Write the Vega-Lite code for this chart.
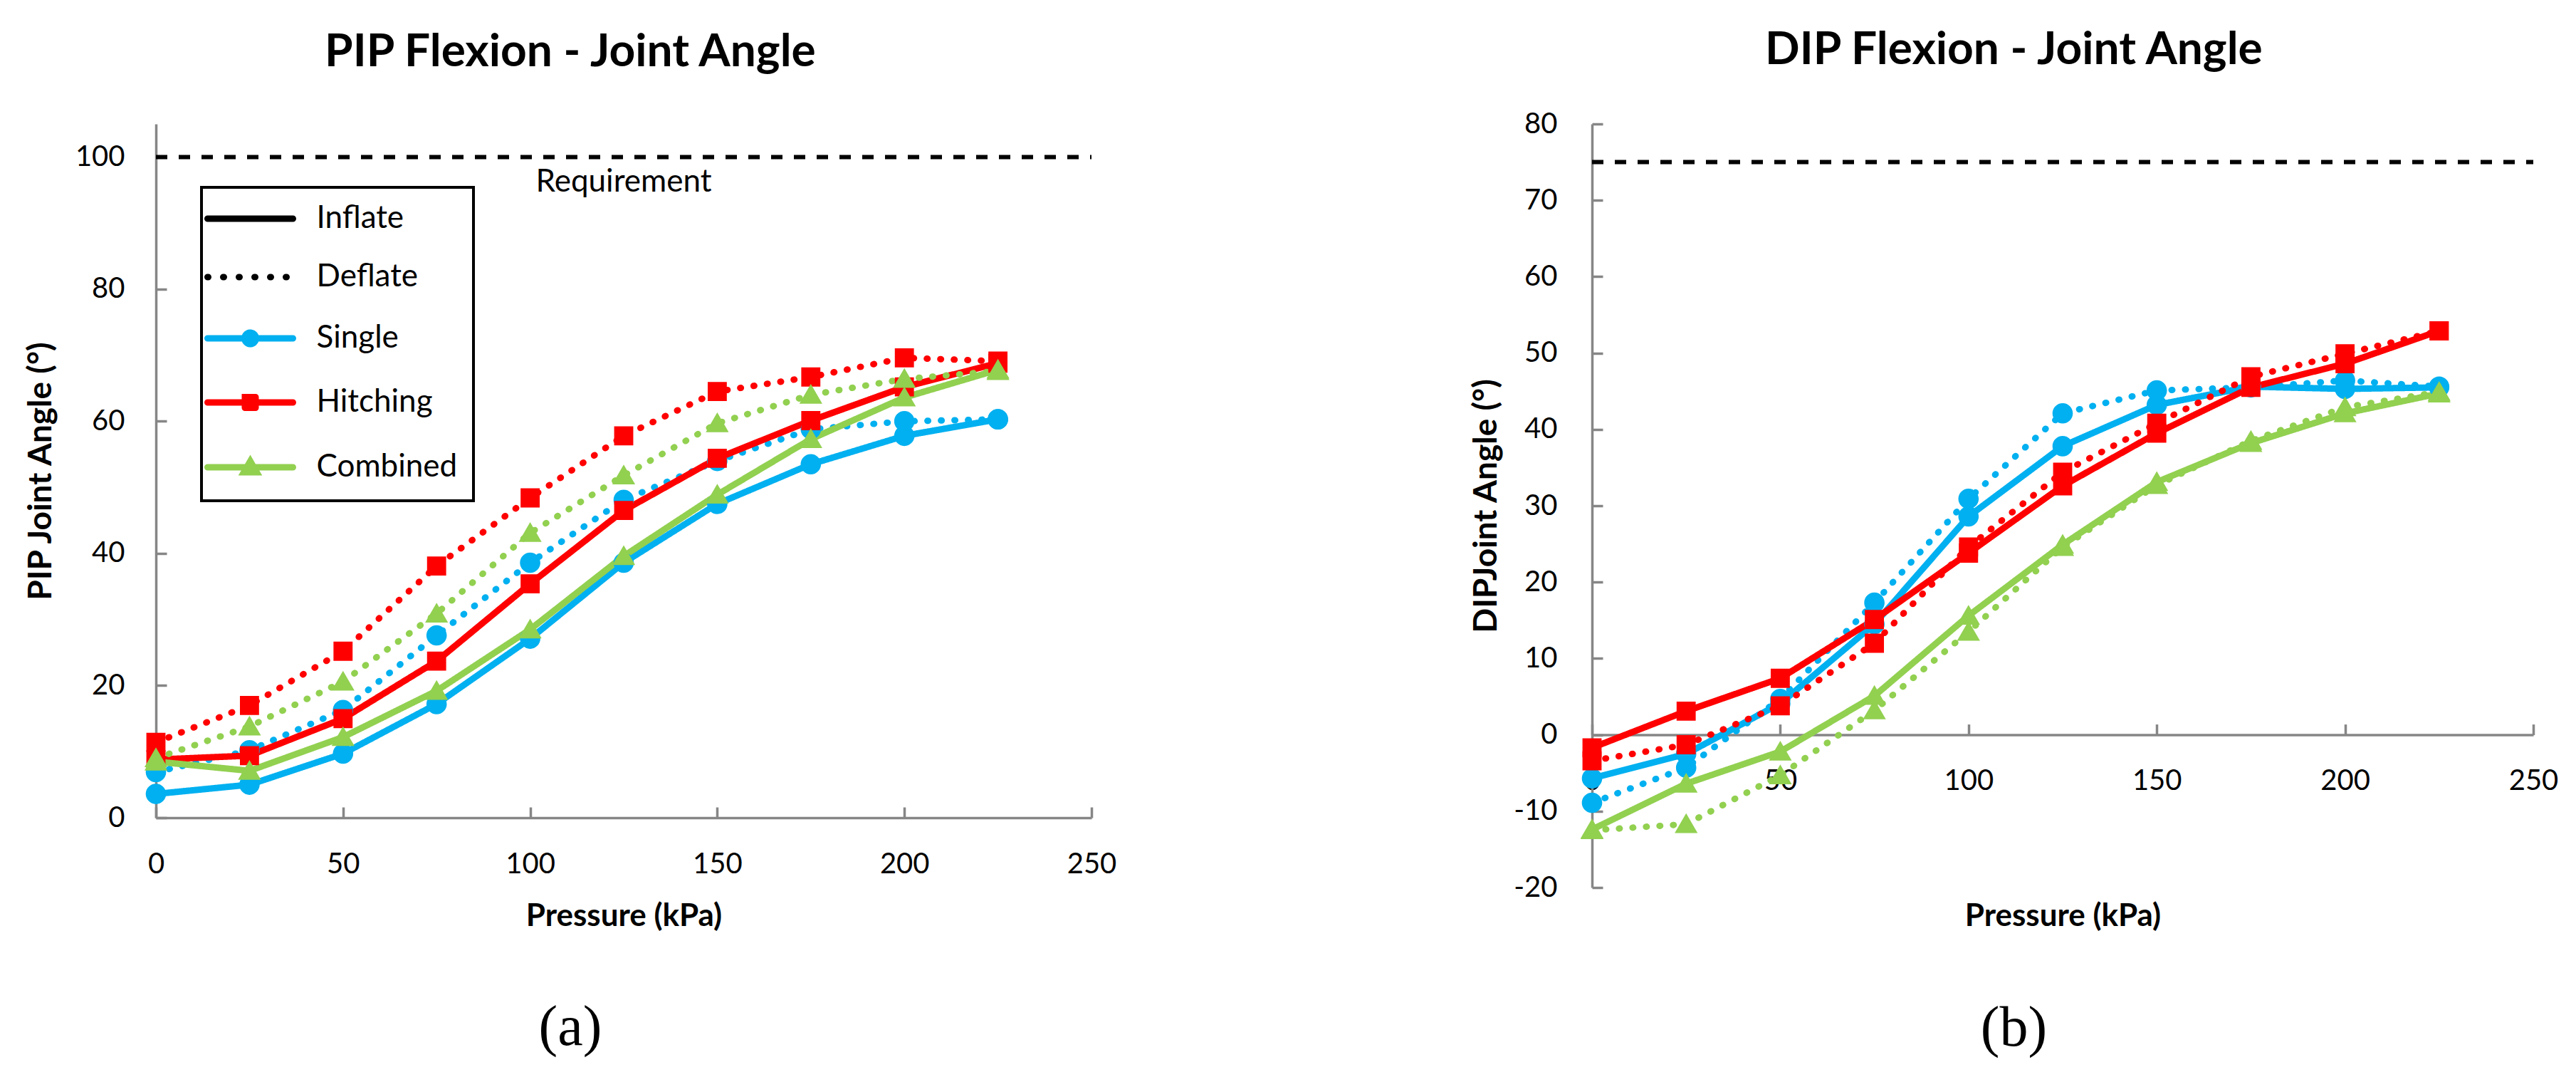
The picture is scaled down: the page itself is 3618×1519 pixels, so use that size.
{
  "$schema": "https://vega.github.io/schema/vega-lite/v6.json",
  "padding": {"left": 34, "top": 39, "right": 5, "bottom": 5},
  "background": "white",
  "spacing": 496,
  "datasets": {
    "pip": [
      {"design": "Single", "phase": "Inflate", "pressure": 0, "angle": 3.6},
      {"design": "Single", "phase": "Inflate", "pressure": 25, "angle": 5.0},
      {"design": "Single", "phase": "Inflate", "pressure": 50, "angle": 9.7},
      {"design": "Single", "phase": "Inflate", "pressure": 75, "angle": 17.2},
      {"design": "Single", "phase": "Inflate", "pressure": 100, "angle": 27.1},
      {"design": "Single", "phase": "Inflate", "pressure": 125, "angle": 38.6},
      {"design": "Single", "phase": "Inflate", "pressure": 150, "angle": 47.5},
      {"design": "Single", "phase": "Inflate", "pressure": 175, "angle": 53.5},
      {"design": "Single", "phase": "Inflate", "pressure": 200, "angle": 57.8},
      {"design": "Single", "phase": "Inflate", "pressure": 225, "angle": 60.3},
      {"design": "Single", "phase": "Deflate", "pressure": 0, "angle": 6.9},
      {"design": "Single", "phase": "Deflate", "pressure": 25, "angle": 10.2},
      {"design": "Single", "phase": "Deflate", "pressure": 50, "angle": 16.3},
      {"design": "Single", "phase": "Deflate", "pressure": 75, "angle": 27.6},
      {"design": "Single", "phase": "Deflate", "pressure": 100, "angle": 38.6},
      {"design": "Single", "phase": "Deflate", "pressure": 125, "angle": 48.1},
      {"design": "Single", "phase": "Deflate", "pressure": 150, "angle": 54.0},
      {"design": "Single", "phase": "Deflate", "pressure": 175, "angle": 58.8},
      {"design": "Single", "phase": "Deflate", "pressure": 200, "angle": 60.0},
      {"design": "Single", "phase": "Deflate", "pressure": 225, "angle": 60.3},
      {"design": "Hitching", "phase": "Inflate", "pressure": 0, "angle": 8.8},
      {"design": "Hitching", "phase": "Inflate", "pressure": 25, "angle": 9.4},
      {"design": "Hitching", "phase": "Inflate", "pressure": 50, "angle": 15.0},
      {"design": "Hitching", "phase": "Inflate", "pressure": 75, "angle": 23.7},
      {"design": "Hitching", "phase": "Inflate", "pressure": 100, "angle": 35.4},
      {"design": "Hitching", "phase": "Inflate", "pressure": 125, "angle": 46.5},
      {"design": "Hitching", "phase": "Inflate", "pressure": 150, "angle": 54.4},
      {"design": "Hitching", "phase": "Inflate", "pressure": 175, "angle": 60.1},
      {"design": "Hitching", "phase": "Inflate", "pressure": 200, "angle": 65.2},
      {"design": "Hitching", "phase": "Inflate", "pressure": 225, "angle": 68.8},
      {"design": "Hitching", "phase": "Deflate", "pressure": 0, "angle": 11.4},
      {"design": "Hitching", "phase": "Deflate", "pressure": 25, "angle": 17.0},
      {"design": "Hitching", "phase": "Deflate", "pressure": 50, "angle": 25.2},
      {"design": "Hitching", "phase": "Deflate", "pressure": 75, "angle": 38.1},
      {"design": "Hitching", "phase": "Deflate", "pressure": 100, "angle": 48.4},
      {"design": "Hitching", "phase": "Deflate", "pressure": 125, "angle": 57.8},
      {"design": "Hitching", "phase": "Deflate", "pressure": 150, "angle": 64.5},
      {"design": "Hitching", "phase": "Deflate", "pressure": 175, "angle": 66.7},
      {"design": "Hitching", "phase": "Deflate", "pressure": 200, "angle": 69.6},
      {"design": "Hitching", "phase": "Deflate", "pressure": 225, "angle": 69.1},
      {"design": "Combined", "phase": "Inflate", "pressure": 0, "angle": 8.5},
      {"design": "Combined", "phase": "Inflate", "pressure": 25, "angle": 7.1},
      {"design": "Combined", "phase": "Inflate", "pressure": 50, "angle": 12.2},
      {"design": "Combined", "phase": "Inflate", "pressure": 75, "angle": 19.2},
      {"design": "Combined", "phase": "Inflate", "pressure": 100, "angle": 28.5},
      {"design": "Combined", "phase": "Inflate", "pressure": 125, "angle": 39.6},
      {"design": "Combined", "phase": "Inflate", "pressure": 150, "angle": 48.9},
      {"design": "Combined", "phase": "Inflate", "pressure": 175, "angle": 57.3},
      {"design": "Combined", "phase": "Inflate", "pressure": 200, "angle": 63.6},
      {"design": "Combined", "phase": "Inflate", "pressure": 225, "angle": 67.8},
      {"design": "Combined", "phase": "Deflate", "pressure": 0, "angle": 9.0},
      {"design": "Combined", "phase": "Deflate", "pressure": 25, "angle": 13.8},
      {"design": "Combined", "phase": "Deflate", "pressure": 50, "angle": 20.6},
      {"design": "Combined", "phase": "Deflate", "pressure": 75, "angle": 30.9},
      {"design": "Combined", "phase": "Deflate", "pressure": 100, "angle": 43.1},
      {"design": "Combined", "phase": "Deflate", "pressure": 125, "angle": 51.8},
      {"design": "Combined", "phase": "Deflate", "pressure": 150, "angle": 59.7},
      {"design": "Combined", "phase": "Deflate", "pressure": 175, "angle": 64.0},
      {"design": "Combined", "phase": "Deflate", "pressure": 200, "angle": 66.4},
      {"design": "Combined", "phase": "Deflate", "pressure": 225, "angle": 67.6}
    ],
    "dip": [
      {"design": "Single", "phase": "Inflate", "pressure": 0, "angle": -5.7},
      {"design": "Single", "phase": "Inflate", "pressure": 25, "angle": -2.5},
      {"design": "Single", "phase": "Inflate", "pressure": 50, "angle": 4.1},
      {"design": "Single", "phase": "Inflate", "pressure": 75, "angle": 14.5},
      {"design": "Single", "phase": "Inflate", "pressure": 100, "angle": 28.6},
      {"design": "Single", "phase": "Inflate", "pressure": 125, "angle": 37.8},
      {"design": "Single", "phase": "Inflate", "pressure": 150, "angle": 43.2},
      {"design": "Single", "phase": "Inflate", "pressure": 175, "angle": 45.6},
      {"design": "Single", "phase": "Inflate", "pressure": 200, "angle": 45.3},
      {"design": "Single", "phase": "Inflate", "pressure": 225, "angle": 45.5},
      {"design": "Single", "phase": "Deflate", "pressure": 0, "angle": -8.9},
      {"design": "Single", "phase": "Deflate", "pressure": 25, "angle": -4.3},
      {"design": "Single", "phase": "Deflate", "pressure": 50, "angle": 4.7},
      {"design": "Single", "phase": "Deflate", "pressure": 75, "angle": 17.3},
      {"design": "Single", "phase": "Deflate", "pressure": 100, "angle": 30.9},
      {"design": "Single", "phase": "Deflate", "pressure": 125, "angle": 42.1},
      {"design": "Single", "phase": "Deflate", "pressure": 150, "angle": 45.1},
      {"design": "Single", "phase": "Deflate", "pressure": 175, "angle": 45.5},
      {"design": "Single", "phase": "Deflate", "pressure": 200, "angle": 46.4},
      {"design": "Single", "phase": "Deflate", "pressure": 225, "angle": 45.6},
      {"design": "Hitching", "phase": "Inflate", "pressure": 0, "angle": -1.7},
      {"design": "Hitching", "phase": "Inflate", "pressure": 25, "angle": 3.1},
      {"design": "Hitching", "phase": "Inflate", "pressure": 50, "angle": 7.4},
      {"design": "Hitching", "phase": "Inflate", "pressure": 75, "angle": 15.1},
      {"design": "Hitching", "phase": "Inflate", "pressure": 100, "angle": 23.8},
      {"design": "Hitching", "phase": "Inflate", "pressure": 125, "angle": 32.6},
      {"design": "Hitching", "phase": "Inflate", "pressure": 150, "angle": 39.5},
      {"design": "Hitching", "phase": "Inflate", "pressure": 175, "angle": 45.5},
      {"design": "Hitching", "phase": "Inflate", "pressure": 200, "angle": 48.6},
      {"design": "Hitching", "phase": "Inflate", "pressure": 225, "angle": 52.9},
      {"design": "Hitching", "phase": "Deflate", "pressure": 0, "angle": -3.4},
      {"design": "Hitching", "phase": "Deflate", "pressure": 25, "angle": -1.3},
      {"design": "Hitching", "phase": "Deflate", "pressure": 50, "angle": 3.8},
      {"design": "Hitching", "phase": "Deflate", "pressure": 75, "angle": 12.0},
      {"design": "Hitching", "phase": "Deflate", "pressure": 100, "angle": 24.6},
      {"design": "Hitching", "phase": "Deflate", "pressure": 125, "angle": 34.4},
      {"design": "Hitching", "phase": "Deflate", "pressure": 150, "angle": 40.8},
      {"design": "Hitching", "phase": "Deflate", "pressure": 175, "angle": 46.9},
      {"design": "Hitching", "phase": "Deflate", "pressure": 200, "angle": 49.9},
      {"design": "Hitching", "phase": "Deflate", "pressure": 225, "angle": 52.9},
      {"design": "Combined", "phase": "Inflate", "pressure": 0, "angle": -12.4},
      {"design": "Combined", "phase": "Inflate", "pressure": 25, "angle": -6.4},
      {"design": "Combined", "phase": "Inflate", "pressure": 50, "angle": -2.2},
      {"design": "Combined", "phase": "Inflate", "pressure": 75, "angle": 5.1},
      {"design": "Combined", "phase": "Inflate", "pressure": 100, "angle": 15.6},
      {"design": "Combined", "phase": "Inflate", "pressure": 125, "angle": 24.9},
      {"design": "Combined", "phase": "Inflate", "pressure": 150, "angle": 33.1},
      {"design": "Combined", "phase": "Inflate", "pressure": 175, "angle": 38.2},
      {"design": "Combined", "phase": "Inflate", "pressure": 200, "angle": 42.1},
      {"design": "Combined", "phase": "Inflate", "pressure": 225, "angle": 44.7},
      {"design": "Combined", "phase": "Deflate", "pressure": 0, "angle": -12.5},
      {"design": "Combined", "phase": "Deflate", "pressure": 25, "angle": -11.7},
      {"design": "Combined", "phase": "Deflate", "pressure": 50, "angle": -5.3},
      {"design": "Combined", "phase": "Deflate", "pressure": 75, "angle": 3.2},
      {"design": "Combined", "phase": "Deflate", "pressure": 100, "angle": 13.5},
      {"design": "Combined", "phase": "Deflate", "pressure": 125, "angle": 24.6},
      {"design": "Combined", "phase": "Deflate", "pressure": 150, "angle": 32.7},
      {"design": "Combined", "phase": "Deflate", "pressure": 175, "angle": 38.5},
      {"design": "Combined", "phase": "Deflate", "pressure": 200, "angle": 42.9},
      {"design": "Combined", "phase": "Deflate", "pressure": 225, "angle": 44.9}
    ]
  },
  "resolve": {
    "scale": {"x": "independent", "y": "independent", "color": "independent", "strokeDash": "independent", "shape": "independent"},
    "legend": {"color": "independent", "shape": "independent"}
  },
  "hconcat": [
    {
      "title": {"text": "(a)", "orient": "bottom", "anchor": "middle", "frame": "bounds", "font": "Liberation Serif", "fontSize": 80, "fontWeight": "normal", "offset": 96},
      "vconcat": [
        {
          "title": {"text": "PIP Flexion - Joint Angle", "anchor": "middle", "frame": "bounds", "offset": 68},
          "width": 1314,
          "height": 974,
          "data": {"name": "pip"},
          "encoding": {
            "x": {
              "field": "pressure",
              "type": "quantitative",
              "scale": {"domain": [0, 250], "nice": false},
              "axis": {"title": "Pressure (kPa)", "values": [0, 50, 100, 150, 200, 250], "labelPadding": 60, "titleY": 138, "titleBaseline": "middle"}
            },
            "y": {
              "field": "angle",
              "type": "quantitative",
              "scale": {"domain": [0, 105], "nice": false, "zero": false},
              "axis": {"title": "PIP Joint Angle (°)", "values": [0, 20, 40, 60, 80, 100], "labelPadding": 59, "titleX": -162, "titleY": 487, "titleAngle": 270, "titleBaseline": "middle", "titleAlign": "center", "titleFontSize": 46}
            },
            "color": {
              "field": "design",
              "type": "nominal",
              "scale": {"domain": ["Inflate", "Deflate", "Single", "Hitching", "Combined"], "range": ["black", "black", "#00B0F0", "#FF0000", "#92D050"]},
              "legend": {
                "orient": "none",
                "legendX": 64,
                "legendY": 89,
                "title": null,
                "strokeColor": "black",
                "padding": 22,
                "labelFont": "Lato",
                "labelFontSize": 44,
                "labelColor": "black",
                "labelLimit": 500,
                "labelOffset": 71,
                "symbolOffset": 24.5,
                "symbolSize": 100,
                "symbolStrokeWidth": 9,
                "rowPadding": 38,
                "encoding": {
                  "legend": {"strokeWidth": {"value": 4}},
                  "symbols": {
                    "strokeDash": {"value": {"expr": "datum.value === 'Deflate' ? [1, 21] : [1, 0]"}},
                    "fill": {"value": {"expr": "datum.value === 'Single' ? '#00B0F0' : datum.value === 'Hitching' ? '#FF0000' : datum.value === 'Combined' ? '#92D050' : 'transparent'"}},
                    "stroke": {"value": {"expr": "datum.value === 'Single' ? '#00B0F0' : datum.value === 'Hitching' ? '#FF0000' : datum.value === 'Combined' ? '#92D050' : 'black'"}},
                    "strokeCap": {"value": "round"},
                    "strokeWidth": {"value": 9},
                    "opacity": {"value": 1}
                  }
                }
              }
            }
          },
          "layer": [
            {
              "data": {"values": [{"x0": 0, "x1": 250, "req": 100}]},
              "mark": {"type": "rule", "strokeWidth": 6, "strokeDash": [16, 16], "color": "black"},
              "encoding": {
                "x": {"field": "x0", "type": "quantitative"},
                "x2": {"field": "x1"},
                "y": {"field": "req", "type": "quantitative"},
                "color": {"value": "black"}
              }
            },
            {
              "data": {"values": [{"pressure": 125, "angle": 96.2, "label": "Requirement"}]},
              "mark": {"type": "text", "font": "Lato", "fontSize": 44, "align": "center", "baseline": "middle"},
              "encoding": {"text": {"field": "label"}, "color": {"value": "black"}}
            },
            {
              "mark": {"type": "line", "strokeWidth": 9, "strokeCap": "round", "strokeJoin": "round"},
              "encoding": {
                "strokeDash": {"field": "phase", "type": "nominal", "scale": {"domain": ["Inflate", "Deflate"], "range": [[1, 0], [1, 18]]}, "legend": null}
              }
            },
            {
              "mark": {"type": "point", "filled": true, "opacity": 1, "size": 320},
              "encoding": {
                "shape": {
                  "field": "design",
                  "type": "nominal",
                  "scale": {
                    "domain": ["Inflate", "Deflate", "Single", "Hitching", "Combined"],
                    "range": [
                      "M-12,0H12",
                      "M-12,0H12",
                      "M-12,0H12M1.6,0A1.6,1.6,0,1,1,-1.6,0A1.6,1.6,0,1,1,1.6,0Z",
                      "M-12,0H12M-1.5,-1.5H1.5V1.5H-1.5Z",
                      "M-12,0H12M0,-1.7L1.8,1.4H-1.8Z"
                    ]
                  },
                  "legend": {
                    "orient": "none",
                    "legendX": 64,
                    "legendY": 89,
                    "title": null,
                    "strokeColor": "black",
                    "padding": 22,
                    "labelFont": "Lato",
                    "labelFontSize": 44,
                    "labelColor": "black",
                    "labelLimit": 500,
                    "labelOffset": 71,
                    "symbolOffset": 24.5,
                    "symbolSize": 100,
                    "symbolStrokeWidth": 9,
                    "rowPadding": 38
                  }
                }
              }
            }
          ]
        }
      ]
    },
    {
      "title": {"text": "(b)", "orient": "bottom", "anchor": "middle", "frame": "bounds", "font": "Liberation Serif", "fontSize": 80, "fontWeight": "normal", "offset": 96},
      "vconcat": [
        {
          "title": {"text": "DIP Flexion - Joint Angle", "anchor": "middle", "frame": "bounds", "offset": 51},
          "width": 1322,
          "height": 1072,
          "data": {"name": "dip"},
          "encoding": {
            "x": {
              "field": "pressure",
              "type": "quantitative",
              "scale": {"domain": [0, 250], "nice": false},
              "axis": {"title": "Pressure (kPa)", "values": [0, 50, 100, 150, 200, 250], "labelPadding": 60, "offset": -214.4, "titleY": 255, "titleBaseline": "middle"}
            },
            "y": {
              "field": "angle",
              "type": "quantitative",
              "scale": {"domain": [-20, 80], "nice": false, "zero": false},
              "axis": {"title": "DIPJoint Angle (°)", "values": [-20, -10, 0, 10, 20, 30, 40, 50, 60, 70, 80], "labelExpr": "datum.value < 0 ? '-' + abs(datum.value) : '' + datum.value", "labelPadding": 64, "titleX": -149, "titleY": 536, "titleAngle": 270, "titleBaseline": "middle", "titleAlign": "center", "titleFontSize": 46}
            },
            "color": {
              "field": "design",
              "type": "nominal",
              "scale": {"domain": ["Inflate", "Deflate", "Single", "Hitching", "Combined"], "range": ["black", "black", "#00B0F0", "#FF0000", "#92D050"]},
              "legend": null
            }
          },
          "layer": [
            {
              "data": {"values": [{"x0": 0, "x1": 250, "req": 75}]},
              "mark": {"type": "rule", "strokeWidth": 6, "strokeDash": [16, 16], "color": "black"},
              "encoding": {
                "x": {"field": "x0", "type": "quantitative"},
                "x2": {"field": "x1"},
                "y": {"field": "req", "type": "quantitative"},
                "color": {"value": "black"}
              }
            },
            {
              "mark": {"type": "line", "strokeWidth": 9, "strokeCap": "round", "strokeJoin": "round"},
              "encoding": {
                "strokeDash": {"field": "phase", "type": "nominal", "scale": {"domain": ["Inflate", "Deflate"], "range": [[1, 0], [1, 18]]}, "legend": null}
              }
            },
            {
              "mark": {"type": "point", "filled": true, "opacity": 1, "size": 320},
              "encoding": {
                "shape": {
                  "field": "design",
                  "type": "nominal",
                  "scale": {
                    "domain": ["Inflate", "Deflate", "Single", "Hitching", "Combined"],
                    "range": [
                      "M-12,0H12",
                      "M-12,0H12",
                      "M-12,0H12M1.6,0A1.6,1.6,0,1,1,-1.6,0A1.6,1.6,0,1,1,1.6,0Z",
                      "M-12,0H12M-1.5,-1.5H1.5V1.5H-1.5Z",
                      "M-12,0H12M0,-1.7L1.8,1.4H-1.8Z"
                    ]
                  },
                  "legend": null
                }
              }
            }
          ]
        }
      ]
    }
  ],
  "config": {
    "font": "Lato",
    "view": {"stroke": null},
    "axis": {
      "domainColor": "#868686",
      "domainWidth": 3.5,
      "tickColor": "#868686",
      "tickWidth": 3.5,
      "tickSize": -15,
      "grid": false,
      "labelFont": "Lato",
      "labelFontSize": 40,
      "labelColor": "black",
      "labelFlush": false,
      "labelOverlap": false,
      "titleFont": "Lato",
      "titleFontSize": 44,
      "titleFontWeight": "bold",
      "titleColor": "black"
    },
    "title": {"font": "Lato", "fontSize": 64, "fontWeight": "bold", "color": "black"}
  }
}
